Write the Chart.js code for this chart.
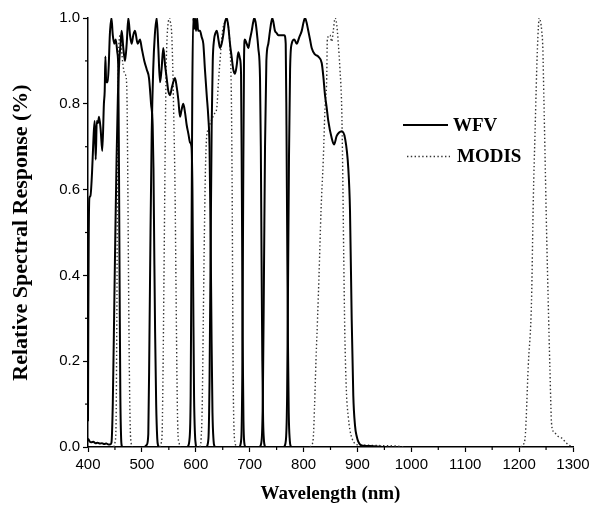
<!DOCTYPE html>
<html><head><meta charset="utf-8">
<script src="https://cdn.jsdelivr.net/npm/chart.js@4.4.1/dist/chart.umd.min.js"></script>
<style>html,body{margin:0;padding:0;background:#fff;}canvas{display:block;}</style>
</head><body>
<canvas id="c" width="601" height="510"></canvas>
<script>
// ---- tick labels ----
const xTicks = [400,500,600,700,800,900,1000,1100,1200,1300];
const xMinorTicks = [450,550,650,750,850,950,1050,1150,1250];
const yTicks = [0,0.2,0.4,0.6,0.8,1.0];
const yMinorTicks = [0.1,0.3,0.5,0.7,0.9];

// ---- WFV (solid) band responses: [wavelength nm, response] ----
const wfvBand1 = [[400,0.06],[400.6,0.3],[401.3,0.48],[402.5,0.58],[404.5,0.585],[407.5,0.64],[409.5,0.70],[411,0.74],[412.5,0.76],[414.3,0.67],[416.3,0.76],[418.5,0.755],[420.5,0.77],[423.5,0.74],[426.5,0.69],[429.5,0.80],[431,0.83],[432.3,0.91],[433.8,0.85],[436.5,0.85],[438.5,0.89],[440.5,0.96],[443.5,1.0],[446,0.96],[448.8,0.94],[451.4,0.95],[454.4,0.92],[456.2,0.88],[457.5,0.65],[458.8,0.35],[460,0.12],[461.5,0.02],[463,0]];
const wfvBand2 = [[400,0.02],[403,0.013],[406,0.011],[410,0.012],[414,0.009],[418,0.01],[422,0.008],[426,0.009],[430,0.007],[434,0.008],[438,0.006],[441,0.006],[443.5,0.01],[446,0.1],[449,0.35],[451,0.52],[453,0.67],[455.5,0.82],[458,0.9],[460.5,0.94],[462.5,0.97],[465.5,0.93],[468.7,0.90],[471.8,0.94],[474.8,1.0],[478,0.96],[481,0.94],[484,0.96],[487.2,0.97],[492.2,0.94],[496.5,0.95],[499.6,0.93],[504.5,0.90],[509,0.88],[513.2,0.86],[517,0.80],[520,0.75],[521.5,0.65],[523,0.45],[524.5,0.27],[526.5,0.1],[528.5,0.02],[530.5,0]];
const wfvBand3 = [[505,0],[509,0.005],[511.9,0.03],[514,0.25],[516,0.5],[518.2,0.73],[521,0.88],[524,0.96],[527.5,1.0],[530.5,0.93],[533.6,0.85],[536.5,0.88],[539.7,0.93],[543,0.89],[546,0.86],[549,0.83],[552.2,0.82],[556,0.84],[561.4,0.86],[564.5,0.84],[567.6,0.81],[570.7,0.77],[573.5,0.785],[576.8,0.80],[580,0.78],[583.2,0.75],[586.3,0.73],[589.3,0.71],[592,0.70],[593.8,0.6],[595.3,0.35],[596.8,0.12],[598.5,0.03],[600.5,0]];
const wfvBand4 = [[585,0],[588.5,0.02],[590.5,0.12],[592,0.45],[593.5,0.82],[595.2,1.0],[597,0.975],[598.6,1.0],[600.5,0.97],[602.5,1.0],[604.4,0.97],[607.8,0.97],[611,0.955],[614,0.94],[617,0.88],[620.3,0.82],[623.2,0.77],[625.5,0.70],[627.5,0.5],[629.3,0.25],[631,0.08],[633,0.015],[635,0]];
const wfvBand5 = [[620,0],[623.5,0.02],[625.5,0.15],[627.5,0.45],[629.5,0.75],[631.5,0.9],[634,0.95],[636.5,0.965],[639,0.97],[642,0.95],[645,0.93],[648,0.94],[651,0.96],[654.2,0.99],[657.4,1.0],[660.4,0.98],[663.5,0.94],[666.5,0.91],[669.6,0.88],[672.8,0.87],[676,0.89],[678.9,0.92],[682,0.905],[684,0.87],[685.5,0.6],[687,0.25],[688.5,0.06],[690,0.01],[692,0]];
const wfvBand6 = [[681,0],[684.5,0.02],[686.5,0.2],[688,0.6],[689.5,0.9],[691,0.95],[694.5,0.94],[697.5,0.93],[700.5,0.95],[703.8,0.97],[706.5,0.99],[708.6,1.0],[711,0.99],[713,0.97],[716,0.93],[719.2,0.86],[720.7,0.7],[722,0.45],[723.5,0.2],[725,0.06],[726.5,0.015],[728.5,0]];
const wfvBand7 = [[719,0],[722.5,0.02],[724.5,0.12],[726.5,0.4],[728.5,0.7],[731,0.9],[734.6,0.94],[737.7,0.97],[742,1.0],[747,0.97],[750,0.965],[753.1,0.96],[759.4,0.96],[764.3,0.96],[766.9,0.94],[768.3,0.75],[769.6,0.5],[771,0.25],[772.5,0.08],[774.5,0.015],[776.5,0]];
const wfvBand8 = [[764,0],[767.5,0.02],[769.5,0.12],[771.2,0.38],[773,0.68],[775,0.88],[778,0.94],[782.8,0.95],[787.3,0.94],[792,0.955],[796.6,0.97],[800,0.99],[802.7,1.0],[805.5,0.99],[808.8,0.97],[812,0.95],[815.1,0.93],[821.2,0.915],[827.4,0.91],[833.7,0.895],[836.6,0.865],[839.8,0.82],[843,0.79],[845.9,0.76],[852.2,0.72],[856.5,0.705],[861.5,0.725],[866,0.733],[870.8,0.736],[876.9,0.72],[883,0.65],[886.2,0.55],[889.3,0.30],[892.3,0.12],[895.5,0.05],[898.6,0.025],[904.7,0.006],[912,0.003],[930,0.002],[950,0]];

// ---- MODIS (dotted) band responses ----
const modisBand3 = [[448,0],[450,0.01],[452,0.05],[453.5,0.3],[455,0.7],[456.5,0.9],[458,0.95],[460,0.96],[462,0.93],[465,0.89],[468,0.87],[471,0.86],[472.5,0.8],[474,0.6],[475.5,0.35],[477,0.15],[478.5,0.04],[480,0.01],[482,0]];
const modisBand4 = [[533,0],[536,0.01],[537.5,0.03],[539,0.15],[541,0.4],[543,0.67],[545,0.88],[547,0.96],[549,0.99],[551,1.0],[553,0.99],[555,0.97],[557,0.9],[559,0.78],[561.5,0.6],[563.5,0.35],[565.5,0.12],[567,0.03],[569,0.01],[571,0]];
const modisBand1 = [[608,0],[610,0.02],[612,0.1],[614,0.3],[616,0.5],[618,0.65],[620,0.72],[623,0.74],[627,0.755],[632,0.77],[636,0.78],[639,0.79],[642,0.85],[645,0.90],[648,0.95],[651,0.98],[654,0.99],[657.5,1.0],[660.5,0.98],[663.5,0.93],[666,0.82],[667.5,0.6],[668.5,0.35],[669.5,0.15],[671,0.04],[673,0.01],[675,0]];
const modisBand2 = [[812,0],[815,0.005],[818,0.02],[820.5,0.1],[823,0.2],[826,0.3],[828.7,0.4],[832.4,0.55],[836.6,0.67],[839.8,0.79],[843,0.86],[844.1,0.95],[849.1,0.96],[852.2,0.945],[855.2,0.97],[858.4,1.0],[861.5,0.985],[864.5,0.94],[867.6,0.88],[870.8,0.79],[872.6,0.65],[874.5,0.45],[876.5,0.27],[879.5,0.13],[883,0.07],[886,0.04],[890,0.02],[895,0.008],[900,0.005],[920,0.004],[950,0.003],[975,0.002],[985,0]];
const modisBand5 = [[1203,0],[1207,0.005],[1211,0.02],[1217,0.19],[1223,0.34],[1226.4,0.58],[1229.5,0.73],[1234,0.93],[1237.5,1.0],[1240,0.99],[1242,0.97],[1244,0.93],[1246,0.81],[1248.6,0.65],[1251,0.5],[1254,0.34],[1257,0.19],[1260.5,0.05],[1265,0.035],[1272,0.025],[1280,0.02],[1287,0.01],[1293,0.004],[1299,0.001]];

const wfvBands = [wfvBand1,wfvBand2,wfvBand3,wfvBand4,wfvBand5,wfvBand6,wfvBand7,wfvBand8];
const modisBands = [modisBand3,modisBand4,modisBand1,modisBand2,modisBand5];

const toXY = arr => arr.map(p => ({x:p[0], y:p[1]}));
const datasets = [];
wfvBands.forEach(b => datasets.push({label:'WFV', data:toXY(b), borderColor:'#000', borderWidth:2, pointRadius:0, fill:false, cubicInterpolationMode:'monotone'}));
modisBands.forEach(b => datasets.push({label:'MODIS', data:toXY(b), borderColor:'#333', borderWidth:1.4, borderDash:[1.4,2.4], pointRadius:0, fill:false, cubicInterpolationMode:'monotone'}));

const extras = {
  id:'extras',
  afterDraw(chart){
    const {ctx, scales:{x,y}, chartArea:ca} = chart;
    ctx.save();
    ctx.strokeStyle='#000'; ctx.lineWidth=1.2; ctx.setLineDash([]);
    xMinorTicks.forEach(v=>{const px=x.getPixelForValue(v); ctx.beginPath(); ctx.moveTo(px,ca.bottom); ctx.lineTo(px,ca.bottom+3); ctx.stroke();});
    yMinorTicks.forEach(v=>{const py=y.getPixelForValue(v); ctx.beginPath(); ctx.moveTo(ca.left,py); ctx.lineTo(ca.left-3,py); ctx.stroke();});
    // legend
    ctx.font='bold 19px "Liberation Serif", "Times New Roman", serif';
    ctx.textBaseline='middle'; ctx.fillStyle='#000';
    ctx.lineWidth=2; ctx.strokeStyle='#000';
    ctx.beginPath(); ctx.moveTo(403,125); ctx.lineTo(448,125); ctx.stroke();
    ctx.fillText('WFV',453,126);
    ctx.lineWidth=1.4; ctx.strokeStyle='#333'; ctx.setLineDash([1.4,2.4]);
    ctx.beginPath(); ctx.moveTo(407,156.5); ctx.lineTo(450,156.5); ctx.stroke();
    ctx.setLineDash([]);
    ctx.fillText('MODIS',457,157);
    ctx.restore();
  }
};

new Chart(document.getElementById('c'), {
  type:'line',
  data:{datasets},
  options:{
    responsive:false, animation:false, events:[],
    layout:{padding:{top:18,right:28,left:0,bottom:0}},
    plugins:{legend:{display:false}, tooltip:{enabled:false}},
    scales:{
      x:{type:'linear', min:400, max:1300,
        afterBuildTicks:s=>{s.ticks=xTicks.map(v=>({value:v}));},
        afterFit:s=>{s.height=63;},
        ticks:{color:'#000', padding:4, maxRotation:0, callback:v=>String(v), font:{family:'"Liberation Sans", Arial, sans-serif', size:15}},
        grid:{display:true, drawOnChartArea:false, drawTicks:true, tickLength:5, tickColor:'#000', tickWidth:1.2},
        border:{display:true, color:'#000', width:1.5},
        title:{display:true, text:'Wavelength (nm)', color:'#000', padding:{top:0,bottom:5}, font:{family:'"Liberation Serif", "Times New Roman", serif', size:19, weight:'bold', lineHeight:1.2}}
      },
      y:{type:'linear', min:0, max:1,
        afterBuildTicks:s=>{s.ticks=yTicks.map(v=>({value:v}));},
        afterFit:s=>{s.width=88;},
        ticks:{color:'#000', padding:3, callback:v=>Number(v).toFixed(1), font:{family:'"Liberation Sans", Arial, sans-serif', size:15}},
        grid:{display:true, drawOnChartArea:false, drawTicks:true, tickLength:5, tickColor:'#000', tickWidth:1.2},
        border:{display:true, color:'#000', width:1.5},
        title:{display:true, text:'Relative Spectral Response (%)', color:'#000', padding:{top:8,bottom:0}, font:{family:'"Liberation Serif", "Times New Roman", serif', size:22, weight:'bold', lineHeight:1.2}}
      }
    }
  },
  plugins:[extras]
});
</script>
</body></html>
